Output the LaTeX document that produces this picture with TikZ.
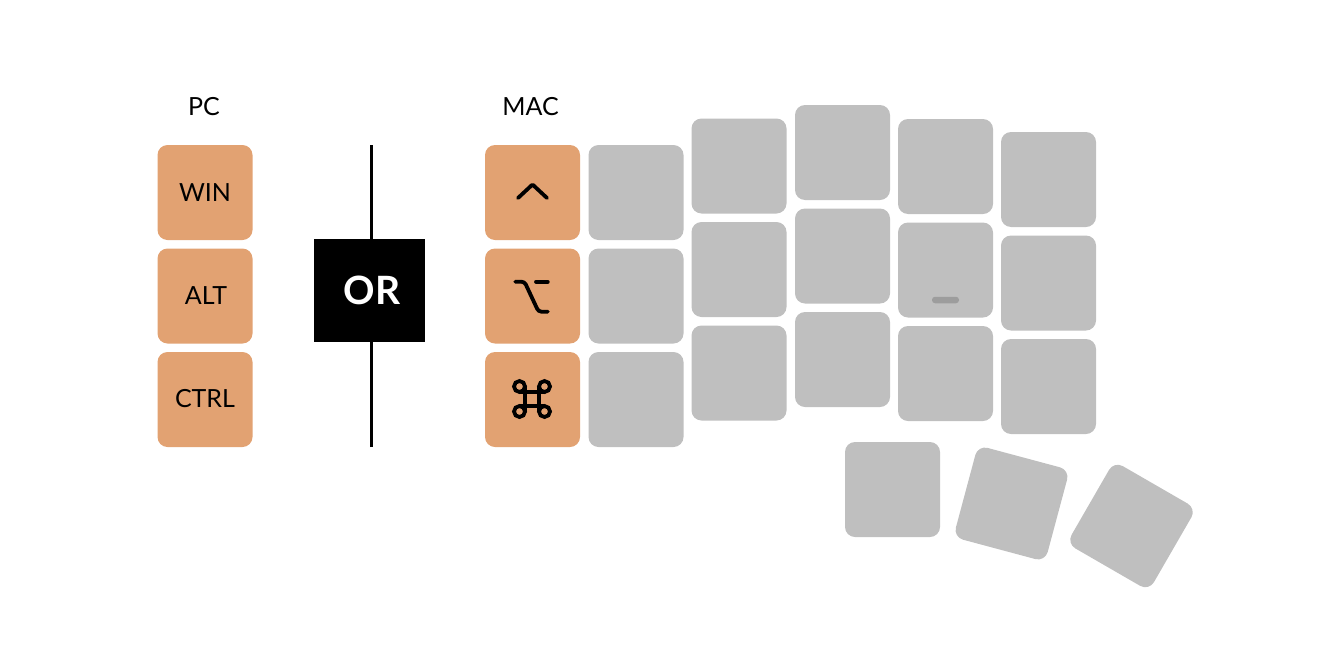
\documentclass[tikz,border=0pt]{standalone}
\usepackage{fontspec}
\setmainfont{Lato}
\usetikzlibrary{positioning}
\definecolor{keyorange}{HTML}{E2A272}
\definecolor{keygray}{HTML}{BFBFBF}
\definecolor{nubgray}{HTML}{9D9D9D}
\tikzset{
  key/.style={rectangle,rounded corners=10pt,minimum size=95pt,inner sep=0pt},
  orangekey/.style={key,fill=keyorange,font=\fontsize{25}{25}\selectfont},
  graykey/.style={key,fill=keygray},
  title/.style={font=\fontsize{25}{25}\selectfont},
  icon/.style={line width=3.8pt,line cap=round}
}
\begin{document}
\begin{tikzpicture}[x=1pt,y=-1pt,on grid,node distance=103.5pt]
   \useasboundingbox (0,0) rectangle (1332,648);
   \node[title] (pc) at (204,107) {PC};
   \node[title] (mac) at (530.5,107) {MAC};
   % modifier keys
   \node[orangekey] (win) at (205,192.5) {\raisebox{-1.5pt}{WIN}};
   \node[orangekey] (alt) [below=of win] {\hspace{2pt}\raisebox{-.5pt}{ALT}};
   \node[orangekey] (ctrl) [below=of alt] {\raisebox{1.5pt}{CTRL}};
   \node[orangekey] (control) at (532.5,192.5) {};
   \node[orangekey] (option) [below=of control] {};
   \node[orangekey] (command) [below=of option] {};
   % mac symbols
   \draw[icon,rounded corners=1pt] ([shift={(-14.5,5.5)}]control.center) -- ([shift={(0,-8)}]control.center) -- ([shift={(14.5,5.5)}]control.center);
   \begin{scope}[shift={(option.center)}]
      \draw[icon,rounded corners=3pt] (-17.3,-14.3) -- (-8,-14.3) -- (6,15.7) -- (15.3,15.7);
      \draw[icon] (3.5,-14.3) -- (15.3,-14.3);
   \end{scope}
   \begin{scope}[shift={(command.center)},xshift=-.5pt,yshift=.5pt]
      \draw[icon] (-7,-12) -- (-7,12);
      \draw[icon] (7,-12) -- (7,12);
      \draw[icon] (-12,-7) -- (12,-7);
      \draw[icon] (-12,7) -- (12,7);
      \foreach \cx in {-12.5,12.5}
         \foreach \cy in {-12.5,12.5}
            \draw[icon] (\cx,\cy) circle [radius=5.5pt];
   \end{scope}
   % separator
   \coordinate (line_top) at (371.5,145);
   \coordinate (line_bottom) at (371.5,447);
   \node[fill=black,text=white,minimum width=111pt,minimum height=103pt,inner sep=0pt,
         font=\fontsize{39}{39}\selectfont\bfseries] (or) at (369.5,290.5) {\hspace{5pt}\raisebox{-1.5pt}{OR}};
   \draw[line width=3pt] (line_top) -- (line_top |- or.north);
   \draw[line width=3pt] (line_bottom) -- (line_bottom |- or.south);
   % main grid
   \node[graykey] (a1) [right=of control] {};
   \node[graykey] (a2) [below=of a1] {};
   \node[graykey] (a3) [below=of a2] {};
   \node[graykey] (b1) at (739,166) {};
   \node[graykey] (b2) [below=of b1] {};
   \node[graykey] (b3) [below=of b2] {};
   \node[graykey] (c1) at (842.5,152.5) {};
   \node[graykey] (c2) [below=of c1] {};
   \node[graykey] (c3) [below=of c2] {};
   \node[graykey] (d1) at (945.5,166.5) {};
   \node[graykey] (d2) [below=of d1] {};
   \node[graykey] (d3) [below=of d2] {};
   \node[graykey] (e1) at (1048.5,179.5) {};
   \node[graykey] (e2) [below=of e1] {};
   \node[graykey] (e3) [below=of e2] {};
   \node[fill=nubgray,rectangle,rounded corners=3pt,minimum width=27pt,minimum height=6.5pt,inner sep=0pt] (nub) at (945.5,300) {};
   % thumb keys
   \node[graykey] (t1) at (892.5,489.5) {};
   \node[graykey,rotate=-15] (t2) at (1011.5,503.5) {};
   \node[graykey,rotate=-30] (t3) at (1131.5,526) {};
\end{tikzpicture}
\end{document}
